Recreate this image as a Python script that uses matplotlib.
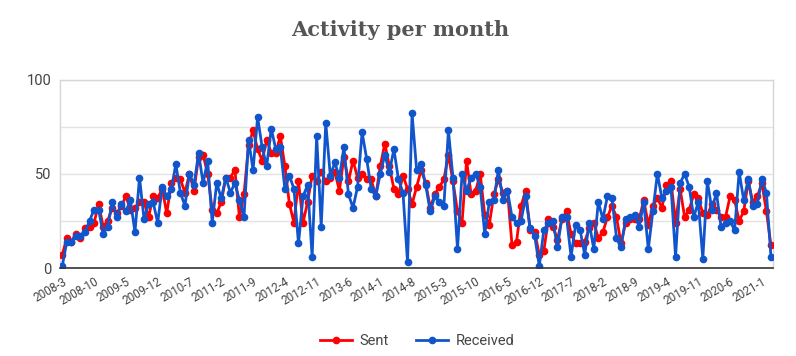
import numpy as np
import matplotlib.pyplot as plt

# monthly counts, 2008-3 .. 2021-3
sent = [7, 16, 14, 18, 16, 21, 22, 24, 34, 22, 25, 32, 29, 33, 38, 31, 32, 35, 35, 27,
        38, 37, 42, 29, 45, 48, 47, 40, 50, 41, 59, 60, 50, 31, 29, 35, 48, 48, 52, 27,
        39, 65, 73, 63, 57, 68, 61, 61, 70, 54, 34, 24, 46, 24, 35, 49, 46, 51, 46, 48,
        51, 41, 59, 46, 57, 48, 50, 47, 47, 38, 54, 66, 54, 42, 39, 49, 42, 34, 43, 52,
        45, 32, 39, 43, 47, 60, 46, 30, 24, 57, 39, 41, 50, 28, 23, 39, 47, 40, 41, 12,
        14, 33, 41, 20, 19, 7, 9, 26, 22, 15, 26, 30, 18, 13, 13, 14, 21, 24, 16, 19,
        27, 33, 27, 13, 24, 26, 26, 26, 36, 23, 33, 37, 32, 44, 46, 24, 42, 27, 31, 39,
        37, 29, 28, 34, 31, 27, 27, 38, 36, 25, 30, 46, 35, 38, 45, 30, 12]
received = [1, 14, 14, 17, 17, 19, 25, 31, 31, 18, 22, 35, 27, 34, 30, 36, 19, 48, 26, 34,
            35, 24, 43, 38, 42, 55, 40, 33, 50, 44, 61, 45, 57, 24, 45, 37, 48, 40, 45, 36,
            27, 68, 52, 80, 64, 54, 74, 63, 64, 42, 49, 42, 13, 38, 44, 6, 70, 22, 77, 49,
            56, 48, 64, 39, 32, 43, 72, 58, 42, 38, 50, 60, 51, 63, 47, 40, 3, 82, 52, 55,
            44, 30, 38, 35, 33, 73, 48, 10, 50, 41, 48, 50, 43, 18, 35, 36, 52, 36, 41, 27,
            24, 25, 38, 21, 17, 1, 20, 24, 25, 11, 27, 27, 6, 23, 20, 7, 24, 10, 35, 26,
            38, 37, 16, 11, 26, 27, 28, 22, 35, 10, 30, 50, 37, 41, 43, 6, 45, 50, 43, 27,
            35, 5, 46, 31, 40, 22, 24, 25, 20, 51, 36, 47, 33, 34, 47, 40, 6]

months = []
y, m = 2008, 3
for i in range(len(sent)):
    months.append('%d-%d' % (y, m))
    m += 1
    if m > 12:
        m = 1
        y += 1

x = np.arange(len(sent))

plt.rcParams['font.family'] = ['Roboto', 'DejaVu Sans']
fig = plt.figure(figsize=(7.96, 3.56), dpi=100)
ax = fig.add_axes([60/796, 1 - 268/356, 713/796, 188.5/356])

red = '#ff0000'
blue = '#1155cc'
ax.plot(x, sent, color=red, lw=2.0, marker='o', ms=4.5, label='Sent', zorder=3)
ax.plot(x, received, color=blue, lw=2.0, marker='o', ms=4.5, label='Received', zorder=4)

ax.set_xlim(-0.5, len(sent) - 0.55)
ax.set_ylim(0, 100)
ax.set_yticks([0, 50, 100])
ax.set_yticks([25, 75], minor=True)
ax.grid(True, axis='y', which='both', color='#e3e3e3', lw=1.0)
ax.set_axisbelow(True)
ax.tick_params(axis='y', which='both', length=0, pad=6, labelsize=10.5, labelcolor='#444444')

ticks = x[::7]
ax.set_xticks(ticks)
ax.set_xticklabels([months[i] for i in ticks], rotation=30, ha='right',
                   rotation_mode='anchor', fontsize=8.5, color='#444444')
ax.tick_params(axis='x', length=0, pad=5)

for s in ['top', 'left', 'right']:
    ax.spines[s].set_color('#d6d6d6')
    ax.spines[s].set_linewidth(1.0)
ax.spines['bottom'].set_color('#333333')
ax.spines['bottom'].set_linewidth(1.2)
ax.spines['bottom'].set_zorder(5)

fig.text(0.503, 0.915, 'Activity per month', ha='center', va='center',
         fontsize=15, fontweight='bold', color='#555555', family='DejaVu Serif')

leg = fig.legend(loc='center', bbox_to_anchor=(0.524, 0.043), ncol=2, frameon=False,
                 fontsize=10.5, handlelength=2.2, columnspacing=1.9, handletextpad=0.5)
for t in leg.get_texts():
    t.set_color('#444444')

fig.savefig('out.png', dpi=100)
